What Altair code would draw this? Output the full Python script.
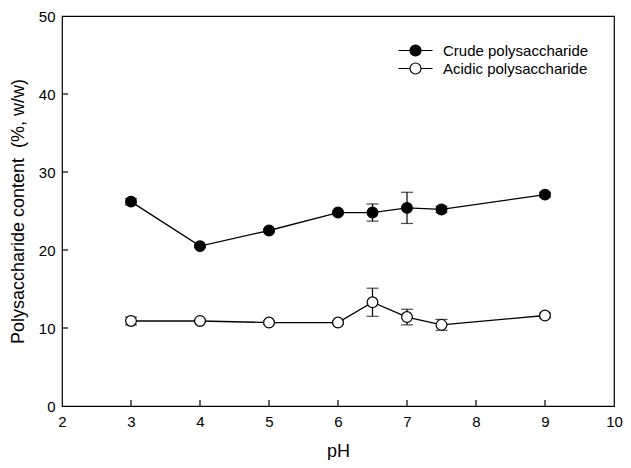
import altair as alt
import pandas as pd

ph = [3, 4, 5, 6, 6.5, 7, 7.5, 9]
crude = [26.2, 20.5, 22.5, 24.8, 24.8, 25.4, 25.2, 27.1]
crude_err = [0.4, 0.2, 0.2, 0.2, 1.1, 2.0, 0.4, 0.3]
acidic = [10.9, 10.9, 10.7, 10.7, 13.3, 11.4, 10.4, 11.6]
acidic_err = [0.5, 0.2, 0.2, 0.2, 1.8, 1.0, 0.7, 0.3]
series_names = ["Crude polysaccharide", "Acidic polysaccharide"]
x_ticks = [3, 4, 5, 6, 7, 8, 9]
y_ticks = [10, 20, 30, 40]

rows = []
for name, vals, errs in [(series_names[0], crude, crude_err), (series_names[1], acidic, acidic_err)]:
    for p, v, e in zip(ph, vals, errs):
        rows.append({"pH": p, "val": v, "lo": v - e, "hi": v + e, "series": name})
df = pd.DataFrame(rows)

W, H = 552, 390
FONT = "Liberation Sans"
XT = "pH"
YT = "Polysaccharide content\u00a0 (%, w/w)"

xs = alt.Scale(domain=[2, 10], nice=False, zero=False)
ys = alt.Scale(domain=[0, 50], nice=False)

xaxis = alt.Axis(values=list(range(2, 11)), ticks=False, domain=False, grid=False, labelFlush=False,
                 labelFontSize=15, labelPadding=8, titleFontSize=18, titlePadding=13,
                 labelFont=FONT, titleFont=FONT, titleFontWeight="normal", labelColor="black", titleColor="black")
yaxis = alt.Axis(values=[0, 10, 20, 30, 40, 50], ticks=False, domain=False, grid=False, labelFlush=False,
                 labelFontSize=15, labelPadding=7, titleFontSize=18, titlePadding=11,
                 labelFont=FONT, titleFont=FONT, titleFontWeight="normal", labelColor="black", titleColor="black")


def X(f):
    return alt.X(f, scale=xs, axis=xaxis, title=XT)


def Y(f):
    return alt.Y(f, scale=ys, axis=yaxis, title=YT)


base = alt.Chart(df)

bars = base.mark_rule(color="black", strokeWidth=1.2).encode(
    x=X("pH:Q"), y=Y("lo:Q"), y2="hi:Q", detail="series:N")
cap_lo = base.mark_tick(color="black", thickness=1.2, size=12, orient="horizontal").encode(
    x=X("pH:Q"), y=Y("lo:Q"), detail="series:N")
cap_hi = base.mark_tick(color="black", thickness=1.2, size=12, orient="horizontal").encode(
    x=X("pH:Q"), y=Y("hi:Q"), detail="series:N")

line = base.mark_line(color="black", strokeWidth=1.3).encode(
    x=X("pH:Q"), y=Y("val:Q"), detail="series:N")

legend_path = "M-3.1,0H-1M1,0H3.1M1,0A1,1,0,1,1,-1,0A1,1,0,1,1,1,0Z"

points = base.mark_point(shape="circle", filled=True, size=115, stroke="black", strokeWidth=1.2, opacity=1).encode(
    x=X("pH:Q"), y=Y("val:Q"),
    fill=alt.Fill("series:N", scale=alt.Scale(domain=series_names, range=["black", "white"]),
                  legend=alt.Legend(title=None, orient="none", legendX=346, legendY=27,
                                    symbolType=legend_path, symbolSize=121,
                                    symbolStrokeColor="black", symbolStrokeWidth=1.2,
                                    labelFontSize=15, labelFont=FONT, labelColor="black",
                                    labelOffset=20, rowPadding=1, padding=0, labelLimit=300)),
)

xt = alt.Chart(pd.DataFrame({"pH": x_ticks})).mark_rule(color="black", strokeWidth=1.2).encode(
    x=X("pH:Q"), y=alt.value(H), y2=alt.value(H - 6))
yt = alt.Chart(pd.DataFrame({"val": y_ticks})).mark_rule(color="black", strokeWidth=1.2).encode(
    y=Y("val:Q"), x=alt.value(0), x2=alt.value(6))

chart = alt.layer(bars, cap_lo, cap_hi, line, points, xt, yt).properties(
    width=W, height=H,
    autosize=alt.AutoSizeParams(type="none"),
    padding={"left": 54, "top": 8, "right": 9, "bottom": 54},
    background="white",
).configure_view(stroke="black", strokeWidth=1.2)

chart.save("out.html", embed_options={"renderer": "svg", "actions": False})
